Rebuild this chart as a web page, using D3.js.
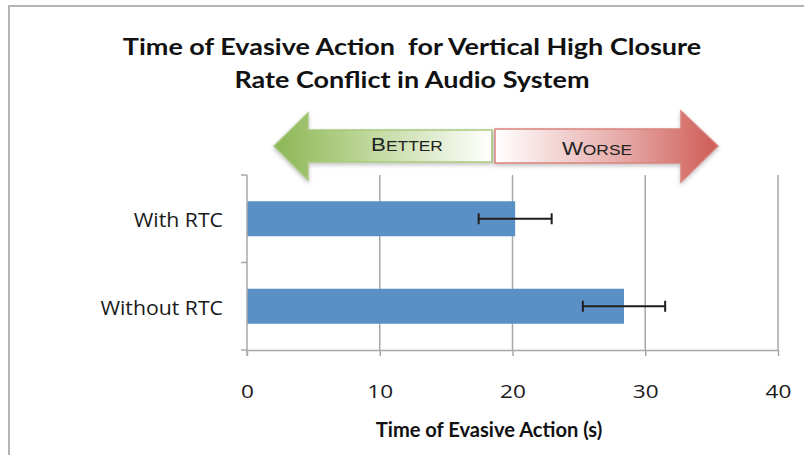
<!DOCTYPE html>
<html>
<head>
<meta charset="utf-8">
<script src="https://cdn.jsdelivr.net/npm/d3@7"></script>
<style>
  html, body { margin: 0; padding: 0; background: #fff; }
  svg { display: block; }
  text { white-space: pre; }
</style>
</head>
<body>
<svg id="chart" width="804" height="455"></svg>
<script>
// Evasive action times (seconds) with error bar half-widths
const categories = ["With RTC", "Without RTC"];
const values = [20.2, 28.4];
const errors = [2.75, 3.1];
const tickValues = [0, 10, 20, 30, 40];
const titleLines = ["Time of Evasive Action  for Vertical High Closure", "Rate Conflict in Audio System"];
const xTitle = "Time of Evasive Action (s)";

const svg = d3.select("#chart");
const gridColor = "#a8a8a8";
const titleFont = "Lato, 'Open Sans', sans-serif";
const labelFont = "'Open Sans', sans-serif";

// Places a horizontally scaled text at (px, py)
function wideText(parent, px, py, anchor, sx) {
  return parent.append("text")
    .attr("transform", `translate(${px},${py}) scale(${sx},1)`)
    .attr("text-anchor", anchor);
}

// Outer frame (top and left edges visible)
svg.append("path")
  .attr("d", "M9,455 L9,6 L804,6")
  .attr("fill", "none")
  .attr("stroke", "#b4b4b4")
  .attr("stroke-width", 2);

// Title
titleLines.forEach((line, i) => {
  wideText(svg, 412, 55 + i * 33, "middle", 1.2)
    .attr("font-family", titleFont)
    .attr("font-weight", "bold")
    .attr("font-size", 22.5)
    .attr("fill", "#111")
    .text(line);
});

// Scales
const x = d3.scaleLinear().domain([0, 40]).range([247, 778]);
const y = d3.scaleBand().domain(categories).range([175, 350]).paddingInner(0.6).paddingOuter(0.3);

// Vertical gridlines
svg.append("g").selectAll("line")
  .data(tickValues.filter(v => v > 0))
  .join("line")
  .attr("x1", d => x(d)).attr("x2", d => x(d))
  .attr("y1", 175).attr("y2", 350)
  .attr("stroke", gridColor).attr("stroke-width", 1.5);

// Bars
svg.append("g").selectAll("rect")
  .data(categories)
  .join("rect")
  .attr("x", x(0))
  .attr("y", d => y(d))
  .attr("width", (d, i) => x(values[i]) - x(0))
  .attr("height", y.bandwidth())
  .attr("fill", "#5b90c7");

// Error bars
const eb = svg.append("g").attr("stroke", "#1e1e1e").attr("stroke-width", 2);
categories.forEach((c, i) => {
  const cy = y(c) + y.bandwidth() / 2;
  const x1 = x(values[i] - errors[i]);
  const x2 = x(values[i] + errors[i]);
  eb.append("line").attr("x1", x1).attr("x2", x2).attr("y1", cy).attr("y2", cy);
  eb.append("line").attr("x1", x1).attr("x2", x1).attr("y1", cy - 5.5).attr("y2", cy + 5.5);
  eb.append("line").attr("x1", x2).attr("x2", x2).attr("y1", cy - 5.5).attr("y2", cy + 5.5);
});

// X axis
const xAxis = d3.axisBottom(x).tickValues(tickValues).tickSize(6).tickSizeOuter(0);
const gx = svg.append("g").attr("transform", "translate(0,350)").call(xAxis);
gx.select(".domain").attr("stroke", gridColor).attr("stroke-width", 1.5);
gx.selectAll(".tick line").attr("stroke", gridColor).attr("stroke-width", 1.5);
gx.selectAll(".tick text").remove();
gx.selectAll(".tick").each(function(d) {
  wideText(d3.select(this), 0, 48, "middle", 1.22)
    .attr("font-family", labelFont)
    .attr("font-size", 18.5)
    .attr("fill", "#1a1a1a")
    .text(d);
});

// Y axis: ticks sit on category boundaries
svg.append("line")
  .attr("x1", x(0)).attr("x2", x(0))
  .attr("y1", 175).attr("y2", 356)
  .attr("stroke", gridColor).attr("stroke-width", 1.5);
const mid = (y(categories[0]) + y.bandwidth() + y(categories[1])) / 2;
svg.append("g").selectAll("line")
  .data([175, mid, 350])
  .join("line")
  .attr("x1", x(0) - 6).attr("x2", x(0))
  .attr("y1", d => d).attr("y2", d => d)
  .attr("stroke", gridColor).attr("stroke-width", 1.5);

categories.forEach(c => {
  wideText(svg, 223, y(c) + y.bandwidth() / 2 + 8.5, "end", 1.09)
    .attr("font-family", labelFont)
    .attr("font-size", 19.5)
    .attr("fill", "#1a1a1a")
    .text(c);
});

// X axis title
wideText(svg, 489, 437, "middle", 0.98)
  .attr("font-family", titleFont)
  .attr("font-weight", "bold")
  .attr("font-size", 20.5)
  .attr("fill", "#111")
  .text(xTitle);

// Better / Worse arrows
const defs = svg.append("defs");
const gGreen = defs.append("linearGradient").attr("id", "gradGreen").attr("x1", "0%").attr("x2", "100%");
gGreen.append("stop").attr("offset", "0%").attr("stop-color", "#8cb654");
gGreen.append("stop").attr("offset", "35%").attr("stop-color", "#b5d18c");
gGreen.append("stop").attr("offset", "100%").attr("stop-color", "#ffffff");
const gRed = defs.append("linearGradient").attr("id", "gradRed").attr("x1", "0%").attr("x2", "100%");
gRed.append("stop").attr("offset", "0%").attr("stop-color", "#ffffff");
gRed.append("stop").attr("offset", "60%").attr("stop-color", "#e4a5a2");
gRed.append("stop").attr("offset", "100%").attr("stop-color", "#cf5b55");
const shadow = defs.append("filter").attr("id", "shadow").attr("x", "-10%").attr("y", "-20%").attr("width", "120%").attr("height", "150%");
shadow.append("feDropShadow").attr("dx", 0).attr("dy", 2).attr("stdDeviation", 2).attr("flood-color", "#000").attr("flood-opacity", 0.25);

svg.append("path")
  .attr("d", "M274,146 L308,113 L308,130 L492,130 L492,162 L308,162 L308,180 Z")
  .attr("fill", "url(#gradGreen)")
  .attr("stroke", "#a9c97e").attr("stroke-width", 1.5)
  .attr("filter", "url(#shadow)");
svg.append("path")
  .attr("d", "M718,146 L681,111 L681,129 L495,129 L495,163 L681,163 L681,182 Z")
  .attr("fill", "url(#gradRed)")
  .attr("stroke", "#d9827e").attr("stroke-width", 1.5)
  .attr("filter", "url(#shadow)");

function smallCaps(text, cx, baseline) {
  const t = wideText(svg, cx, baseline, "middle", 1.2)
    .attr("font-family", "'Liberation Sans', Arial, sans-serif")
    .attr("fill", "#222");
  t.append("tspan").attr("font-size", 18.5).text(text[0]);
  t.append("tspan").attr("font-size", 14.5).text(text.slice(1));
}
smallCaps("BETTER", 407, 151);
smallCaps("WORSE", 597, 155);
</script>
</body>
</html>
